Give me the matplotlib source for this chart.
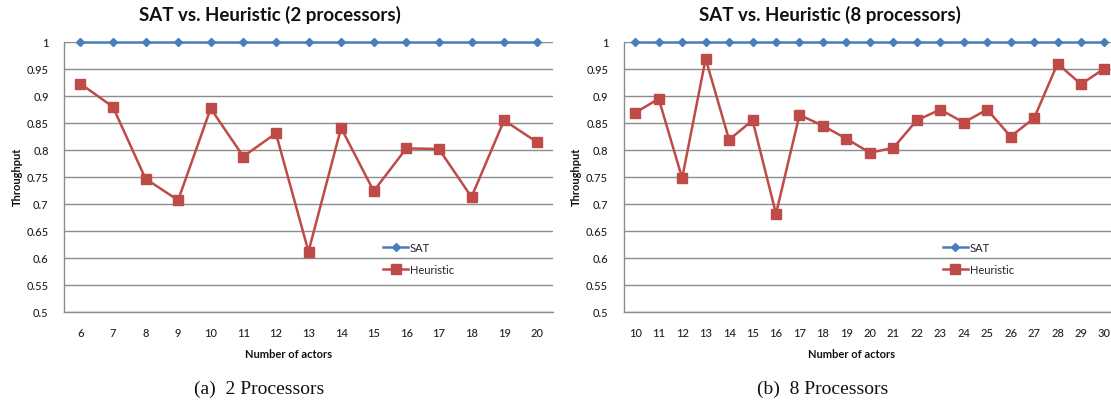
import matplotlib
matplotlib.use('Agg')
import matplotlib.pyplot as plt

actors_2 = list(range(6, 21))
sat_2 = [1.0] * 15
heur_2 = [0.922, 0.879, 0.746, 0.706, 0.876, 0.787, 0.830, 0.611,
          0.840, 0.723, 0.802, 0.801, 0.712, 0.854, 0.814]

actors_8 = list(range(10, 31))
sat_8 = [1.0] * 21
heur_8 = [0.868, 0.894, 0.747, 0.968, 0.818, 0.854, 0.681, 0.864, 0.844,
          0.820, 0.794, 0.803, 0.854, 0.874, 0.850, 0.874, 0.824, 0.858,
          0.959, 0.921, 0.950]

yticks = [0.5, 0.55, 0.6, 0.65, 0.7, 0.75, 0.8, 0.85, 0.9, 0.95, 1]
ytick_labels = ['0.5', '0.55', '0.6', '0.65', '0.7', '0.75', '0.8', '0.85', '0.9', '0.95', '1']

sat_color = '#4A7EBB'
heur_color = '#BE4B48'
grid_color = '#8C8C8C'
text_color = '#222222'
font = 'Lato'

W, H = 1111, 402
fig = plt.figure(figsize=(W / 100, H / 100), dpi=100)


def draw(rect, actors, sat, heur, title, caption, title_x, xlabel_x, caption_x, legend_x):
    ax = fig.add_axes(rect)
    pos = list(range(len(actors)))
    ax.plot(pos, sat, color=sat_color, marker='D', markersize=4.5, linewidth=1.8,
            label='SAT', clip_on=False, zorder=4)
    ax.plot(pos, heur, color=heur_color, marker='s', markersize=7, linewidth=1.8,
            label='Heuristic', clip_on=False, zorder=5)
    ax.set_xlim(-0.5, len(actors) - 0.5)
    ax.set_ylim(0.5, 1.0)
    ax.set_yticks(yticks)
    ax.set_yticklabels(ytick_labels)
    ax.set_xticks(pos)
    ax.set_xticklabels([str(a) for a in actors])
    ax.tick_params(length=0, labelsize=8, labelcolor=text_color, pad=11)
    for lab in ax.get_xticklabels() + ax.get_yticklabels():
        lab.set_family(font)
        lab.set_fontweight('medium')
    ax.grid(axis='y', color=grid_color, linewidth=1)
    ax.set_axisbelow(True)
    for s in ['top', 'right']:
        ax.spines[s].set_visible(False)
    for s in ['left', 'bottom']:
        ax.spines[s].set_color(grid_color)
        ax.spines[s].set_linewidth(1)
    leg = ax.legend(loc='upper left', bbox_to_anchor=legend_x, frameon=False,
                    prop={'family': font, 'size': 8}, handlelength=2.2,
                    handletextpad=0.2, labelspacing=1.0, borderaxespad=0)
    for t in leg.get_texts():
        t.set_color(text_color)
    fig.text(title_x / W, 1 - 15 / H, title, ha='center', va='center',
             fontsize=13.5, fontweight='bold', family=font, color='#111111')
    fig.text(xlabel_x / W, 1 - 355 / H, 'Number of actors', ha='center', va='center',
             fontsize=8, fontweight='bold', family=font, color='#111111')
    fig.text((rect[0] * W - 47) / W, 1 - 177 / H, 'Throughput', ha='center', va='center',
             rotation=90, fontsize=8, fontweight='bold', family=font, color='#111111')
    fig.text(caption_x / W, 1 - 389 / H, caption, ha='center', va='center',
             fontsize=14, family='Liberation Serif', color='#111111')
    return ax


draw([64 / W, 1 - 312.5 / H, 489 / W, 270 / H], actors_2, sat_2, heur_2,
     'SAT vs. Heuristic (2 processors)', '(a)  2 Processors', 270, 289, 259,
     (0.644, 0.273))
draw([623.5 / W, 1 - 312.5 / H, 492.7 / W, 270 / H], actors_8, sat_8, heur_8,
     'SAT vs. Heuristic (8 processors)', '(b)  8 Processors', 830, 852, 823,
     (0.64, 0.273))

fig.savefig('out.png', dpi=100)
